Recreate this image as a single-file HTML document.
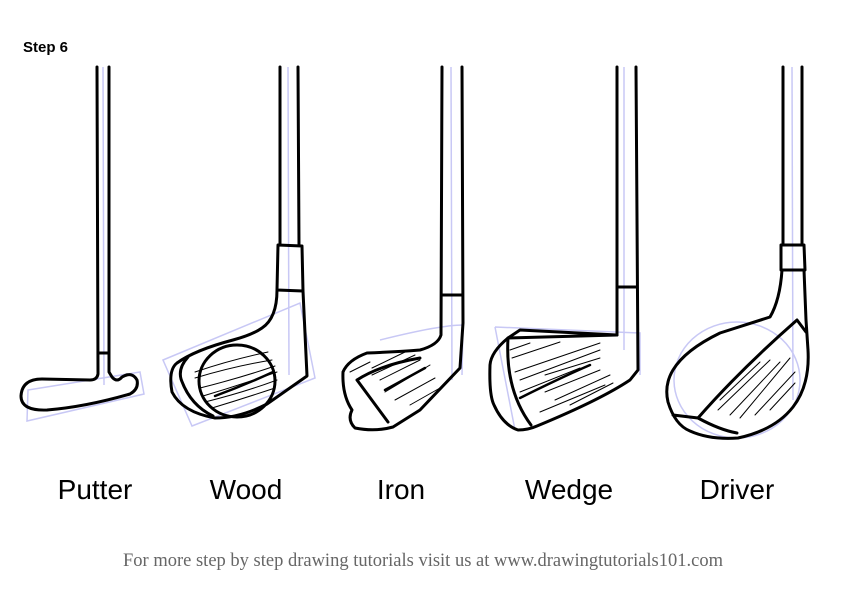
<!DOCTYPE html>
<html><head><meta charset="utf-8"><style>
body{margin:0;background:#fff;width:843px;height:596px;overflow:hidden}
svg{display:block}
</style></head><body>
<svg width="843" height="596" viewBox="0 0 843 596" xmlns="http://www.w3.org/2000/svg">
<g stroke="#c8c8f5" stroke-width="1.5" fill="none">
<line x1="103" y1="67" x2="104" y2="385"/>
<path d="M28 390 L140 372 L144 394 L27 421 Z"/>
<line x1="288" y1="67" x2="289" y2="375"/>
<path d="M163 360 L300 303 L315 378 L192 426 Z"/>
<line x1="451" y1="67" x2="452" y2="380"/>
<path d="M380 340 Q440 325 463 325 L462 375"/>
<line x1="624" y1="67" x2="624" y2="350"/>
<path d="M495 327 L640 333 L640 375 M495 327 L515 430"/>
<line x1="792" y1="67" x2="793" y2="400"/>
<ellipse cx="737" cy="380" rx="63" ry="58"/>
</g>
<g stroke="#000" stroke-width="3" fill="none" stroke-linejoin="round" stroke-linecap="round">
<path d="M97 67 L98 374 Q97 380 90 380 L42 379 Q22 379 21 396 Q21 411 47 410 Q85 407 130 394 Q139 389 137 380 Q132 371 122 377 Q117 383 112 377 L109 372 L109 67"/>
<line x1="98" y1="353" x2="109" y2="353"/>
<path d="M280 67 L280 245 M298 67 L299 245"/>
<path d="M278 245 L302 246 L303 291 L277 290 Z"/>
<path d="M277 290 Q277 318 262 328 Q252 335 233 340 Q195 350 177 363 Q168 370 172 392 Q182 412 215 418 Q240 418 267 404 L307 376 L303 291"/>
<path d="M188 357 Q178 368 181 379 Q190 405 213 416"/>
<ellipse cx="237" cy="381" rx="38" ry="36"/>
<path d="M442 67 L441 335 Q438 345 420 350 Q395 352 367 353 Q348 360 343 372 Q342 395 352 410 Q347 420 355 428 Q375 432 393 427 L420 410 L460 368 L463 323 L462 67"/>
<line x1="442" y1="295" x2="462" y2="295"/>
<path d="M357 380 L388 422 M357 380 Q380 365 420 358"/>
<path d="M617 67 L617 335 L520 330 L508 338 Q491 352 490 365 Q489 395 494 405 Q503 425 518 430 Q528 430 537 426 Q600 400 630 380 L638 370 L636 67"/>
<line x1="617" y1="287" x2="636" y2="287"/>
<path d="M508 338 L617 335 M508 338 Q505 390 531 425"/>
<path d="M783 67 L783 245 M802 67 L802 245"/>
<path d="M781 245 L804 245 L805 270 L781 270 Z"/>
<path d="M782 270 Q780 300 770 317 Q745 325 720 333 Q685 350 673 370 Q664 385 668 402 Q675 425 690 431 Q710 440 738 438 Q775 430 793 407 Q810 385 808 350 L806 320 L804 270"/>
<path d="M673 415 L698 418 Q720 430 737 433 M698 418 Q740 370 797 320 L806 332"/>
</g>
<g stroke="#000" stroke-width="1" fill="none" stroke-linecap="round">
<path d="M195 372 Q230 360 268 352 M195 378 Q235 366 272 360 M200 388 Q240 378 275 366 M203 396 Q240 385 277 372 M205 402 Q245 392 277 380 M212 408 Q245 398 275 388"/>
<path d="M215 396 Q245 385 273 372" stroke-width="2.5"/>
<path d="M370 362 L350 372 M372 368 L405 352 M372 375 L415 355 M380 380 L420 360 M385 392 L430 365 M395 400 L435 378 M410 405 L440 388"/>
<path d="M385 390 L425 368" stroke-width="2.5"/>
<path d="M510 350 L530 343 M512 358 L560 342 M515 372 L600 343 M520 380 L600 350 M545 375 L600 358 M520 392 L580 368 M545 392 L600 370 M555 400 L610 375 M540 412 L605 385 M570 405 L613 383"/>
<path d="M520 398 Q560 378 590 365" stroke-width="2.5"/>
<path d="M720 400 L760 362 M718 410 L770 360 M730 415 L780 362 M740 418 L790 358 M755 415 L795 372 M770 410 L795 383"/>
</g>
<g font-family="Liberation Sans, sans-serif" fill="#000">
<text x="23" y="52" font-size="15" font-weight="bold">Step 6</text>
<g font-size="28" text-anchor="middle">
<text x="95" y="499">Putter</text>
<text x="246" y="499">Wood</text>
<text x="401" y="499">Iron</text>
<text x="569" y="499">Wedge</text>
<text x="737" y="499">Driver</text>
</g>
</g>
<text x="423" y="566" font-family="Liberation Serif, serif" font-size="18.5" fill="#666" text-anchor="middle">For more step by step drawing tutorials visit us at www.drawingtutorials101.com</text>
</svg>
</body></html>
